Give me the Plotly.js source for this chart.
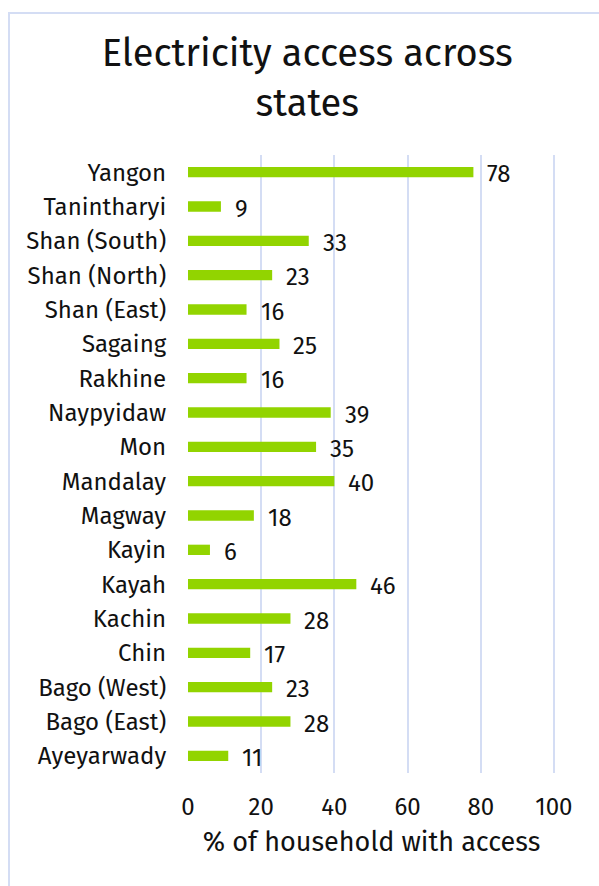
<!DOCTYPE html>
<html>
<head>
<meta charset="utf-8">
<script src="https://cdn.plot.ly/plotly-3.0.1.min.js"></script>
<style>
  html, body { margin: 0; padding: 0; background: #fff; }
  #frame { position: absolute; left: 8px; top: 12px; width: 700px; height: 1000px;
           border-left: 2px solid #D4DDF4; border-top: 2px solid #D4DDF4; box-sizing: border-box; }
  #chart { position: absolute; left: 0; top: 0; width: 599px; height: 886px; }
</style>
</head>
<body>
<div id="frame"></div>
<div id="chart"></div>
<script>
const states = ["Ayeyarwady", "Bago (East)", "Bago (West)", "Chin", "Kachin", "Kayah", "Kayin",
  "Magway", "Mandalay", "Mon", "Naypyidaw", "Rakhine", "Sagaing", "Shan (East)",
  "Shan (North)", "Shan (South)", "Tanintharyi", "Yangon"];
const access = [11, 28, 23, 17, 28, 46, 6, 18, 40, 35, 39, 16, 25, 16, 23, 33, 9, 78];
const xTicks = [0, 20, 40, 60, 80, 100];

const font = "'Fira Sans', 'Noto Sans', 'Open Sans', sans-serif";

const labels = states.map((s, i) => ({
  x: access[i], y: s, xref: 'x', yref: 'y',
  text: String(access[i]), showarrow: false,
  xanchor: 'left', yanchor: 'middle', xshift: 12, yshift: -2,
  font: { family: font, size: 24, color: '#111' }
}));

Plotly.newPlot('chart', [{
  type: 'bar',
  orientation: 'h',
  y: states,
  x: access,
  width: 0.3,
  marker: { color: '#92D400' },
  hoverinfo: 'none'
}], {
  width: 599, height: 886,
  paper_bgcolor: 'rgba(0,0,0,0)', plot_bgcolor: 'rgba(0,0,0,0)',
  margin: { l: 188, r: 44, t: 155, b: 113 },
  font: { family: font, color: '#111' },
  title: {
    text: 'Electricity access across<br>states',
    font: { family: font, size: 38, color: '#111' },
    xref: 'container', x: 0.513, xanchor: 'center',
    yref: 'container', y: 0.925, yanchor: 'top'
  },
  annotations: labels,
  xaxis: {
    range: [0, 100.3],
    tickvals: xTicks,
    ticktext: xTicks.map(String),
    showgrid: true, gridcolor: '#D4DDF4', gridwidth: 2,
    zeroline: false, showline: false,
    ticks: 'outside', ticklen: 12, tickcolor: 'rgba(0,0,0,0)',
    tickfont: { family: font, size: 24, color: '#111' },
    title: { text: '% of household with access', font: { family: font, size: 27, color: '#111' }, standoff: 12 }
  },
  yaxis: {
    type: 'category',
    range: [-0.5, 17.5],
    showgrid: false, zeroline: false, showline: false,
    ticks: 'outside', ticklen: 16, tickcolor: 'rgba(0,0,0,0)',
    tickfont: { family: font, size: 24, color: '#111' }
  },
  showlegend: false
}, { staticPlot: true });
</script>
</body>
</html>
